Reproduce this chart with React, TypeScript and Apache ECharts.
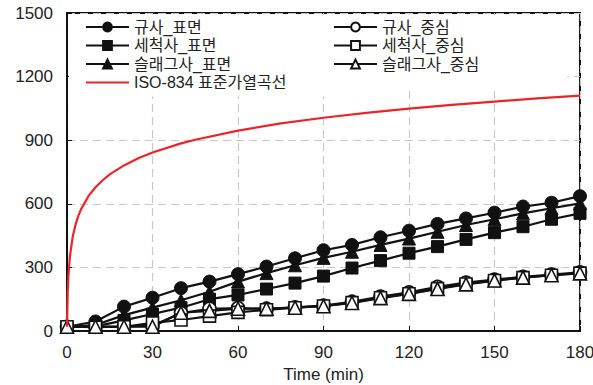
import React, { useEffect, useRef } from "react";
import * as echarts from "echarts";

const times = [0, 10, 20, 30, 40, 50, 60, 70, 80, 90, 100, 110, 120, 130, 140, 150, 160, 170, 180];

const gyusaSurface = [20, 45, 115, 157, 202, 233, 268, 304, 343, 381, 406, 442, 473, 505, 531, 558, 587, 605, 636];
const gyusaCenter = [20, 20, 22, 25, 85, 105, 108, 105, 112, 120, 138, 162, 182, 208, 228, 242, 255, 266, 277];
const washedSurface = [20, 22, 50, 80, 110, 150, 170, 198, 226, 259, 297, 332, 367, 398, 432, 464, 492, 527, 555];
const washedCenter = [20, 18, 20, 38, 52, 70, 88, 100, 110, 118, 134, 157, 176, 200, 222, 238, 252, 263, 273];
const slagSurface = [20, 28, 75, 110, 145, 185, 233, 273, 310, 345, 374, 406, 436, 468, 500, 527, 555, 579, 602];
const slagCenter = [20, 20, 20, 20, 86, 95, 105, 105, 110, 117, 132, 155, 175, 198, 220, 238, 252, 263, 272];

const isoTime = [0, 0.25, 0.5, 1, 2, 3, 4, 5, 7.5, 10, 12.5, 15, 20, 25, 30, 40, 45, 60, 75, 90, 105, 120, 135, 150, 165, 180];
const isoTemp = [20, 185, 261, 349, 445, 502, 544, 576, 636, 678, 711, 739, 781, 815, 842, 885, 902, 945, 979, 1006, 1029, 1049, 1067, 1082, 1097, 1110];

const xTicks = [0, 30, 60, 90, 120, 150, 180];
const yTicks = [0, 300, 600, 900, 1200, 1500];

const names = {
  gs: "규사_표면",
  gc: "규사_중심",
  ws: "세척사_표면",
  wc: "세척사_중심",
  ss: "슬래그사_표면",
  sc: "슬래그사_중심",
  iso: "ISO-834 표준가열곡선",
};

const FONT = "'Liberation Sans', Arial, 'Noto Sans CJK KR', sans-serif";

function mk(name: string, vals: number[], symbol: string, filled: boolean, size: number) {
  return {
    name,
    type: "line",
    data: times.map((t, i) => [t, vals[i]]),
    symbol,
    symbolSize: size,
    showSymbol: true,
    lineStyle: { color: "#111", width: 2.2 },
    itemStyle: filled
      ? { color: "#111", borderColor: "#111", borderWidth: 1 }
      : { color: "#fff", borderColor: "#111", borderWidth: 1.6 },
    z: filled ? 3 : 4,
  };
}

export default function App() {
  const ref = useRef<HTMLDivElement>(null);
  useEffect(() => {
    if (!ref.current) return;
    const chart = echarts.init(ref.current, null, { renderer: "svg" });
    const legendText = { fontSize: 16, color: "#222", fontFamily: FONT, lineHeight: 15 };
    chart.setOption({
      animation: false,
      backgroundColor: "#fff",
      grid: {
        left: 67,
        right: 13,
        top: 13,
        bottom: 54,
        show: true,
        borderColor: "#111",
        borderWidth: 2,
        containLabel: false,
        outerBoundsMode: "none",
      },
      legend: [
        {
          orient: "vertical",
          left: 69,
          top: 15,
          itemWidth: 43,
          itemHeight: 11,
          itemGap: 2.5,
          padding: [4, 40, 6, 16],
          backgroundColor: "#fff",
          textStyle: legendText,
          data: [
            names.gs,
            names.ws,
            names.ss,
            {
              name: names.iso,
              itemStyle: { color: "rgba(0,0,0,0)", borderColor: "rgba(0,0,0,0)", borderWidth: 0 },
            },
          ],
          z: 20,
        },
        {
          orient: "vertical",
          left: 318,
          top: 15,
          itemWidth: 43,
          itemHeight: 11,
          itemGap: 2.5,
          padding: [4, 88, 18, 15],
          backgroundColor: "#fff",
          textStyle: legendText,
          data: [names.gc, names.wc, names.sc],
          z: 20,
        },
      ],
      xAxis: {
        type: "value",
        min: 0,
        max: 180,
        interval: 30,
        name: "Time (min)",
        nameLocation: "middle",
        nameGap: 35,
        nameTextStyle: { fontSize: 17, color: "#222", fontFamily: FONT },
        axisLine: { lineStyle: { color: "#111", width: 2 } },
        axisTick: { inside: true, length: 5, lineStyle: { color: "#111" } },
        axisLabel: {
          fontSize: 17,
          color: "#222",
          fontFamily: FONT,
          margin: 13,
          formatter: (v: number) => (xTicks.includes(v) ? String(v) : ""),
        },
        splitLine: { show: true, lineStyle: { color: "#c8c8c8", type: [8, 5], width: 1.2 } },
      },
      yAxis: {
        type: "value",
        min: 0,
        max: 1500,
        interval: 300,
        axisLine: { show: true, lineStyle: { color: "#111", width: 2 } },
        axisTick: { show: true, inside: true, length: 5, lineStyle: { color: "#111" } },
        axisLabel: {
          fontSize: 17,
          color: "#222",
          fontFamily: FONT,
          margin: 14,
          formatter: (v: number) => (yTicks.includes(v) ? String(v) : ""),
        },
        splitLine: { show: true, lineStyle: { color: "#c8c8c8", type: [8, 5], width: 1.2 } },
      },
      series: [
        mk(names.gs, gyusaSurface, "circle", true, 13),
        mk(names.gc, gyusaCenter, "circle", false, 13),
        mk(names.ws, washedSurface, "rect", true, 12),
        mk(names.wc, washedCenter, "rect", false, 12),
        mk(names.ss, slagSurface, "triangle", true, 13),
        mk(names.sc, slagCenter, "triangle", false, 13),
        {
          name: names.iso,
          type: "line",
          data: isoTime.map((t, i) => [t, isoTemp[i]]),
          symbol: "none",
          showSymbol: false,
          lineStyle: { color: "#e8262a", width: 2.2 },
          itemStyle: { color: "#e8262a" },
          z: 5,
        },
      ],
    });
    return () => chart.dispose();
  }, []);
  return <div ref={ref} style={{ width: 593, height: 385, position: "absolute", left: 0, top: 0 }} />;
}
